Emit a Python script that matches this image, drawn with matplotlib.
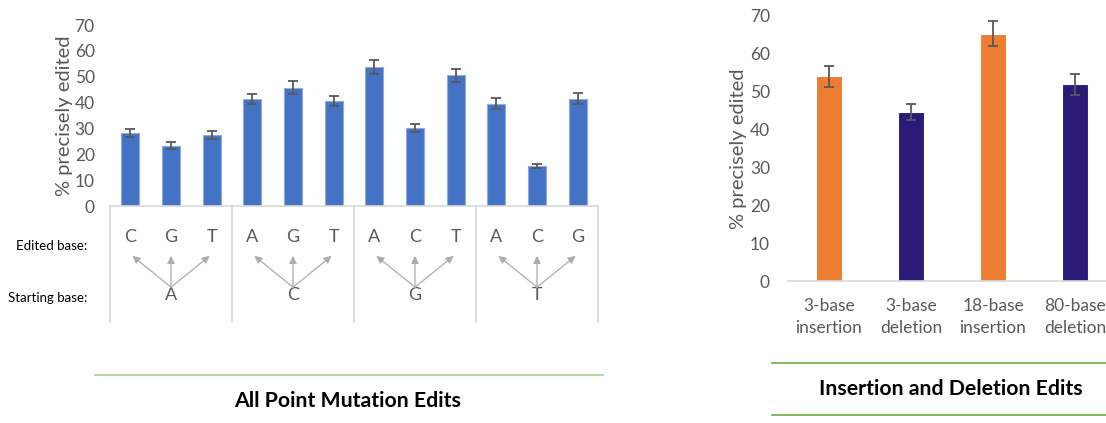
import matplotlib
matplotlib.use("Agg")
import matplotlib.pyplot as plt
import numpy as np

plt.rcParams['font.family'] = ['Lato', 'DejaVu Sans']

# point mutation data
start_bases = ["A", "C", "G", "T"]
edited_bases = ["C", "G", "T", "A", "G", "T", "A", "C", "T", "A", "C", "G"]
point_vals = [28.2, 23.3, 27.5, 41.4, 45.8, 40.6, 53.6, 30.3, 50.5, 39.6, 15.5, 41.5]
point_err = [1.4, 1.35, 1.4, 2.1, 2.4, 2.1, 2.7, 1.6, 2.6, 2.0, 0.9, 2.2]

# insertion / deletion data
indel_labels = ["3-base\ninsertion", "3-base\ndeletion", "18-base\ninsertion", "80-base\ndeletion"]
indel_vals = [54.0, 44.6, 65.2, 51.9]
indel_err = [2.7, 2.2, 3.3, 2.7]
indel_colors = ["#ED7D31", "#2B1A78", "#ED7D31", "#2B1A78"]

W, H = 1106, 423
GRAY = "#595959"
LINE = "#D9D9D9"

fig = plt.figure(figsize=(W / 100, H / 100), dpi=100)


def px_axes(x0, x1, y0, y1):
    # axes from pixel box (y measured from top)
    return fig.add_axes([x0 / W, 1 - y1 / H, (x1 - x0) / W, (y1 - y0) / H])


def style(ax, pad):
    for s in ["top", "right", "left"]:
        ax.spines[s].set_visible(False)
    ax.spines["bottom"].set_color(LINE)
    ax.spines["bottom"].set_linewidth(1.2)
    ax.tick_params(axis="both", length=0, colors=GRAY, labelsize=12.5)
    ax.tick_params(axis="y", pad=pad)
    ax.set_ylim(0, 70)
    ax.set_yticks(range(0, 71, 10))
    ax.set_ylabel("% precisely edited", fontsize=14.5, color=GRAY)


# ---- left chart ----
ax1 = px_axes(110, 598, 25, 206)
x = np.arange(len(point_vals))
ax1.bar(x, point_vals, width=0.45, color="#4472C4", edgecolor="#8FAADC", linewidth=0.8)
ax1.errorbar(x, point_vals, yerr=point_err, fmt="none", ecolor=GRAY, elinewidth=1.3,
             capsize=3.3, capthick=1.3)
ax1.set_xlim(-0.5, len(point_vals) - 0.5)
ax1.set_xticks([])
style(ax1, 11)
ax1.yaxis.labelpad = 1

# multi-level category table under the left chart
tab = px_axes(110, 598, 206, 322)
tab.set_xlim(ax1.get_xlim())
tab.set_ylim(1, 0)
tab.axis("off")
for b in np.arange(0, len(point_vals) + 1, 3) - 0.5:
    tab.plot([b, b], [0, 1], color=LINE, lw=1.2, clip_on=False)
for i, e in enumerate(edited_bases):
    tab.text(i, 0.27, e, ha="center", va="center", fontsize=13, color=GRAY)
for g, s in enumerate(start_bases):
    c = g * 3 + 1
    tab.text(c, 0.77, s, ha="center", va="center", fontsize=13, color=GRAY)
    for dx in (-1, 0, 1):
        tab.annotate("", xy=(c + dx * 0.95, 0.43), xytext=(c, 0.70),
                     arrowprops=dict(arrowstyle="-|>", color="#ADADAD", lw=0.9,
                                     mutation_scale=11, shrinkA=0, shrinkB=0))
fig.text(87 / W, 1 - 246 / H, "Edited base:", ha="right", va="center", fontsize=9.5, color="black")
fig.text(87 / W, 1 - 298 / H, "Starting base:", ha="right", va="center", fontsize=9.5, color="black")

fig.add_artist(plt.Line2D([95 / W, 603 / W], [1 - 375 / H] * 2, color="#A9D18E", lw=1.2))
fig.text(348 / W, 1 - 401 / H, "All Point Mutation Edits", ha="center", va="center",
         fontsize=15.3, fontweight="bold", color="black")

# ---- right chart ----
ax2 = px_axes(788, 1116, 15.7, 281)
x2 = np.arange(len(indel_vals))
ax2.bar(x2, indel_vals, width=0.305, color=indel_colors, edgecolor="white", linewidth=0.8)
ax2.errorbar(x2, indel_vals, yerr=indel_err, fmt="none", ecolor=GRAY, elinewidth=1.3,
             capsize=3.6, capthick=1.3)
ax2.set_xlim(-0.5, len(indel_vals) - 0.5)
ax2.set_xticks(x2)
ax2.set_xticklabels(indel_labels, fontsize=12.5, linespacing=1.45)
style(ax2, 13)
ax2.tick_params(axis="x", pad=12)
ax2.yaxis.labelpad = 2

fig.add_artist(plt.Line2D([772 / W, 1106 / W], [1 - 363 / H] * 2, color="#70AD47", lw=1.2))
fig.add_artist(plt.Line2D([772 / W, 1106 / W], [1 - 415 / H] * 2, color="#70AD47", lw=1.2))
fig.text(951 / W, 1 - 389 / H, "Insertion and Deletion Edits", ha="center", va="center",
         fontsize=15.3, fontweight="bold", color="black")

fig.savefig("out.png", dpi=100)
